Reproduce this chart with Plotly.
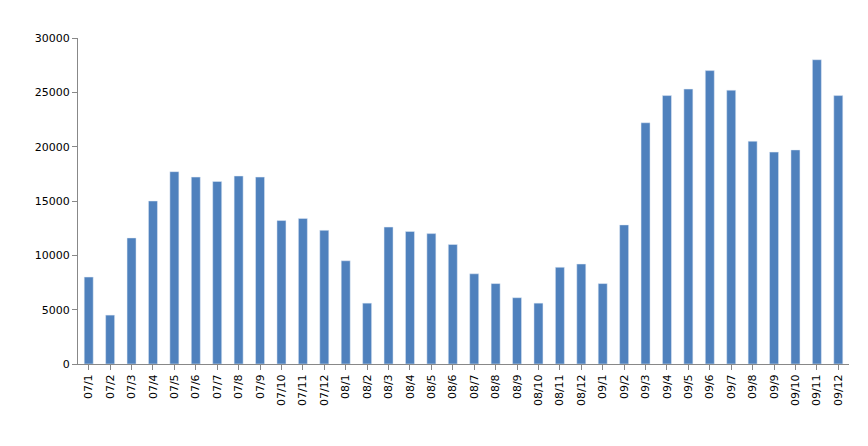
import plotly.graph_objects as go

months = [f"{y:02d}/{m}" for y in (7, 8, 9) for m in range(1, 13)]
values = [8000, 4500, 11600, 15000, 17700, 17200, 16800, 17300, 17200, 13200, 13400, 12300,
          9500, 5600, 12600, 12200, 12000, 11000, 8300, 7400, 6100, 5600, 8900, 9200,
          7400, 12800, 22200, 24700, 25300, 27000, 25200, 20500, 19500, 19700, 28000, 24700]

fig = go.Figure(go.Bar(x=months, y=values, marker_color="#4F81BD", width=0.42))

fig.update_layout(
    width=868, height=446,
    margin=dict(l=70, r=27, t=30, b=90),
    plot_bgcolor="white", paper_bgcolor="white",
    font=dict(family="DejaVu Sans", size=11, color="#000"),
    showlegend=False,
)
fig.update_xaxes(type="category", tickangle=-90, showline=True, linecolor="#888",
                 ticks="outside", ticklen=5, tickcolor="#888", showgrid=False)
fig.update_yaxes(range=[0, 30000], dtick=5000, showline=True, linecolor="#888",
                 ticks="outside", ticklen=5, tickcolor="#888", showgrid=False,
                 tickformat="d")

fig.write_html("out.html")
